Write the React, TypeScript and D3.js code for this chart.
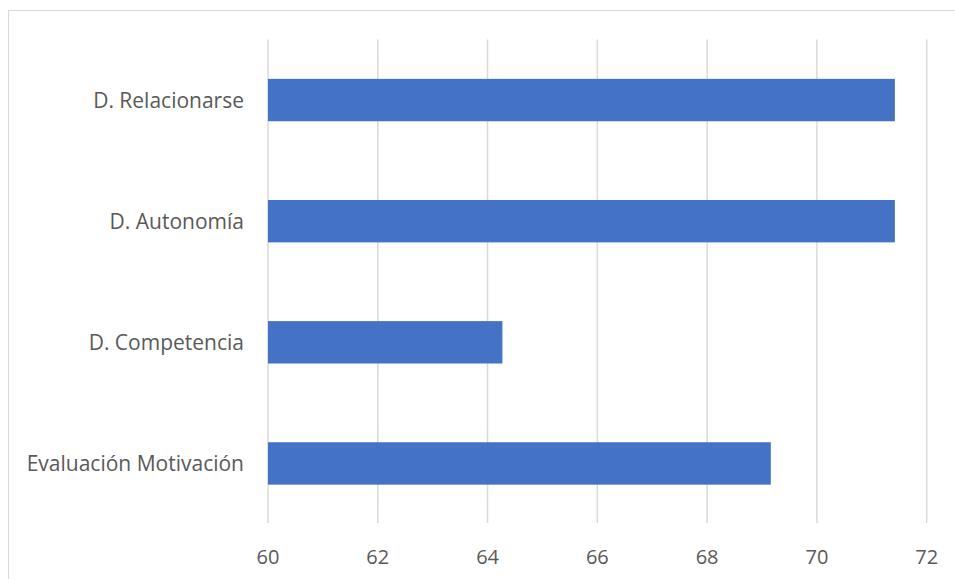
import React from "react";
import * as d3 from "d3";

const categories = ["D. Relacionarse", "D. Autonomía", "D. Competencia", "Evaluación Motivación"];
const values = [71.42, 71.42, 64.27, 69.16];
const xTicks = [60, 62, 64, 66, 68, 70, 72];

const W = 955;
const H = 579;
const plot = { left: 268, right: 926.7, top: 39.5, bottom: 524 };
const FONT = "'Open Sans', 'Liberation Sans', sans-serif";

export default function App() {
  const x = d3.scaleLinear().domain([60, 72]).range([plot.left, plot.right]);
  const y = d3
    .scaleBand<string>()
    .domain(categories)
    .range([plot.top, plot.bottom])
    .paddingInner(0.65)
    .paddingOuter(0.325);

  return (
    <div style={{ position: "absolute", left: 0, top: 0 }}>
      <svg width={W} height={H} style={{ display: "block", background: "#fff" }}>
        {/* chart frame */}
        <rect x={8.5} y={10.5} width={W + 10} height={H + 10} fill="none" stroke="#d9d9d9" strokeWidth={1} />
        {/* vertical gridlines */}
        {xTicks.map((t) => (
          <line
            key={t}
            x1={x(t)}
            x2={x(t)}
            y1={plot.top}
            y2={plot.bottom - 1}
            stroke="#d9d9d9"
            strokeWidth={1.5}
          />
        ))}
        {/* bars */}
        {categories.map((c, i) => (
          <rect
            key={c}
            x={x(60)}
            y={y(c)}
            width={x(values[i]) - x(60)}
            height={y.bandwidth()}
            fill="#4472C4"
          />
        ))}
        {/* category labels */}
        {categories.map((c) => (
          <text
            key={c}
            x={244}
            y={(y(c) ?? 0) + y.bandwidth() / 2}
            textAnchor="end"
            dominantBaseline="central"
            fontFamily={FONT}
            fontSize={21}
            fill="#595959"
          >
            {c}
          </text>
        ))}
        {/* value axis labels */}
        {xTicks.map((t) => (
          <text
            key={t}
            x={x(t)}
            y={556}
            textAnchor="middle"
            dominantBaseline="central"
            fontFamily={FONT}
            fontSize={20}
            fill="#595959"
          >
            {t}
          </text>
        ))}
      </svg>
    </div>
  );
}
